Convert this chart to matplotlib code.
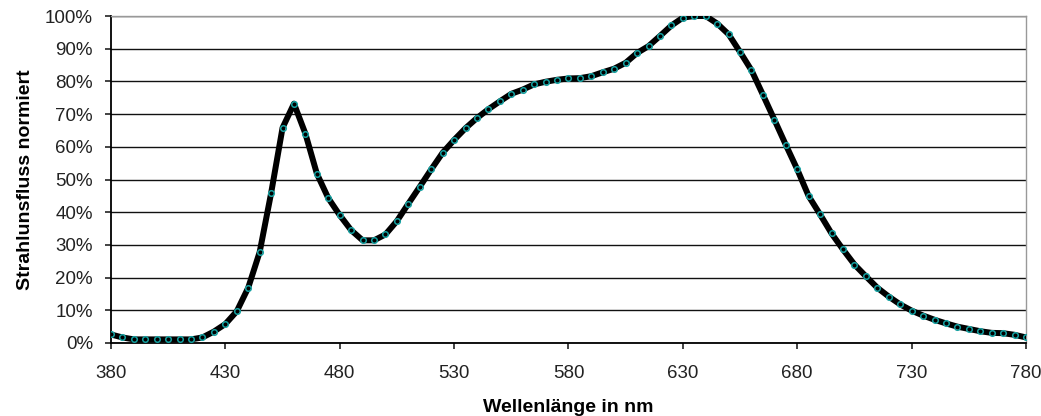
import numpy as np
import matplotlib.pyplot as plt
from matplotlib.ticker import FuncFormatter

plt.rcParams['font.family'] = ['Liberation Sans', 'DejaVu Sans']

# wavelength in nm, 5 nm steps
wl = np.arange(380, 781, 5)
# normalized radiant flux in %
flux = [2.6, 1.7, 1.1, 1.1, 1.1, 1.1, 1.1, 1.1, 1.7, 3.5,
        5.8, 9.7, 16.9, 27.8, 45.8, 65.8, 73.2, 64.0, 51.8, 44.3,
        39.1, 34.5, 31.4, 31.4, 33.2, 37.3, 42.6, 47.8, 53.1, 58.2,
        62.1, 65.7, 68.8, 71.5, 73.9, 76.2, 77.5, 79.1, 79.9, 80.5,
        80.9, 81.0, 81.6, 82.8, 83.9, 85.7, 88.7, 90.8, 93.9, 97.1,
        99.5, 100.0, 100.0, 97.7, 94.4, 89.0, 83.4, 75.9, 68.3, 60.6,
        53.1, 44.9, 39.3, 33.5, 28.6, 24.0, 20.4, 16.9, 14.2, 11.8,
        9.9, 8.4, 7.1, 6.0, 5.0, 4.3, 3.6, 3.1, 3.0, 2.5,
        1.7]

xticks = [380, 430, 480, 530, 580, 630, 680, 730, 780]
yticks = np.arange(0, 101, 10)

fig = plt.figure(figsize=(10.41, 4.16), dpi=100)
ax = fig.add_axes([0.1066, 0.1755, 0.879, 0.786])

ax.plot(wl, flux, color='black', lw=4.3, zorder=3)
ax.plot(wl, flux, 'o', ms=4, mfc='none', mec='#14a0a0', mew=1.1, zorder=4)

ax.set_xlim(380, 780)
ax.set_ylim(0, 100)
ax.set_xticks(xticks)
ax.set_yticks(yticks)
ax.yaxis.set_major_formatter(FuncFormatter(lambda v, p: '%d%%' % v))

ax.grid(axis='y', color='#111111', lw=1.0)
ax.set_axisbelow(True)
for s in ['left', 'bottom']:
    ax.spines[s].set_color('black')
    ax.spines[s].set_linewidth(1.3)
for s in ['top', 'right']:
    ax.spines[s].set_color('#999999')
    ax.spines[s].set_linewidth(1)

ax.tick_params(axis='both', direction='out', length=4, width=1.2, labelsize=13.5, colors='#222222')
ax.tick_params(axis='x', pad=12)
ax.tick_params(axis='y', pad=9)

ax.set_xlabel('Wellenlänge in nm', fontsize=14, fontweight='bold', labelpad=12)
ax.set_ylabel('Strahlunsfluss normiert', fontsize=14, fontweight='bold', labelpad=8)

fig.savefig('out.png', dpi=100)
